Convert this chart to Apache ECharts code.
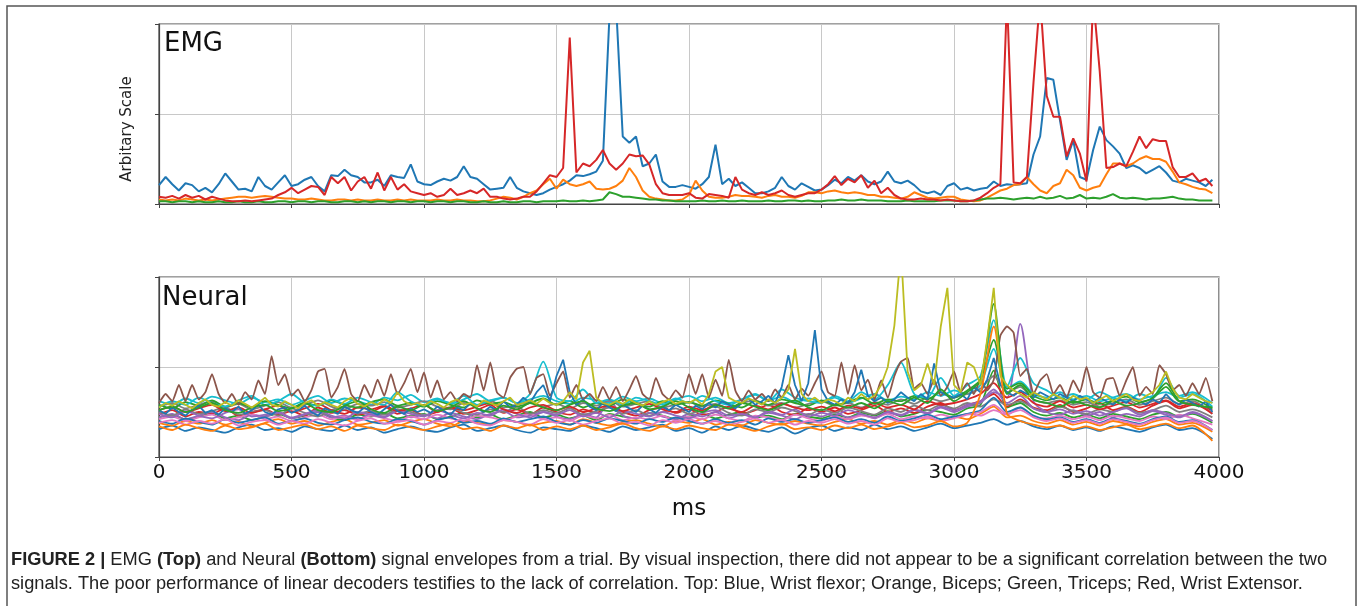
<!DOCTYPE html>
<html>
<head>
<meta charset="utf-8">
<script src="https://cdn.jsdelivr.net/npm/echarts@6/dist/echarts.min.js"></script>
<style>
  html, body { margin: 0; padding: 0; background: #ffffff; }
  #chart { width: 1360px; height: 606px; }
</style>
</head>
<body>
<div id="chart"></div>
<script>
// ---------------- DATA ----------------
const xTicks = [0, 500, 1000, 1500, 2000, 2500, 3000, 3500, 4000];
const EMG_STEP = 25;      // ms between EMG samples
const NEURAL_STEP_FINE = 25;
const NEURAL_STEP = 50;
const END_T = 3975;

// EMG envelopes (arbitrary scale, grid lines at 1 and 2)
const emgFlexor = [ // blue
0.21,0.30,0.22,0.15,0.23,0.21,0.14,0.18,0.13,0.22, 0.34,0.25,0.16,0.17,0.14,0.30,0.20,0.16,0.24,0.32,
0.20,0.22,0.27,0.30,0.20,0.14,0.32,0.31,0.38,0.32, 0.30,0.24,0.24,0.27,0.20,0.32,0.30,0.29,0.44,0.25,
0.22,0.21,0.25,0.28,0.26,0.30,0.42,0.30,0.28,0.22, 0.16,0.17,0.18,0.30,0.18,0.14,0.12,0.10,0.12,0.16,
0.19,0.22,0.26,0.32,0.31,0.33,0.36,0.48,2.10,2.20, 0.75,0.68,0.75,0.42,0.45,0.55,0.25,0.19,0.19,0.21,
0.19,0.17,0.22,0.30,0.66,0.22,0.28,0.20,0.24,0.18, 0.12,0.12,0.14,0.18,0.30,0.20,0.16,0.23,0.19,0.15,
0.16,0.21,0.27,0.23,0.30,0.26,0.32,0.25,0.22,0.25, 0.36,0.25,0.23,0.26,0.21,0.14,0.12,0.14,0.10,0.20,
0.23,0.16,0.18,0.15,0.17,0.18,0.25,0.20,0.22,0.21, 0.22,0.23,0.55,0.75,1.40,1.38,0.93,0.49,0.71,0.30,
0.27,0.60,0.86,0.71,0.64,0.56,0.40,0.43,0.40,0.34, 0.38,0.42,0.35,0.26,0.24,0.28,0.26,0.24,0.20,0.27];
const emgBiceps = [ // orange
0.05,0.04,0.05,0.04,0.06,0.05,0.04,0.05,0.04,0.05, 0.06,0.07,0.08,0.08,0.07,0.08,0.09,0.08,0.07,0.06,
0.06,0.05,0.05,0.06,0.05,0.04,0.04,0.05,0.05,0.04, 0.05,0.04,0.04,0.05,0.04,0.04,0.05,0.04,0.05,0.04,
0.04,0.04,0.05,0.04,0.04,0.05,0.04,0.04,0.03,0.03, 0.04,0.06,0.08,0.07,0.05,0.08,0.12,0.15,0.22,0.28,
0.17,0.27,0.22,0.20,0.22,0.25,0.17,0.16,0.17,0.20, 0.26,0.40,0.30,0.15,0.08,0.06,0.05,0.04,0.04,0.05,
0.10,0.26,0.15,0.08,0.07,0.07,0.08,0.10,0.09,0.09, 0.08,0.07,0.09,0.10,0.08,0.08,0.07,0.09,0.13,0.13,
0.12,0.14,0.15,0.13,0.12,0.13,0.12,0.10,0.10,0.08, 0.08,0.07,0.06,0.08,0.13,0.10,0.07,0.06,0.07,0.08,
0.08,0.05,0.04,0.03,0.04,0.07,0.11,0.15,0.17,0.21, 0.22,0.30,0.22,0.15,0.12,0.20,0.23,0.38,0.32,0.18,
0.15,0.18,0.20,0.33,0.45,0.45,0.42,0.45,0.50,0.53, 0.50,0.50,0.47,0.36,0.24,0.22,0.19,0.17,0.16,0.12];
const emgTriceps = [ // green
0.03,0.03,0.02,0.03,0.03,0.02,0.03,0.02,0.02,0.03, 0.02,0.02,0.03,0.02,0.02,0.03,0.02,0.02,0.03,0.03,
0.02,0.03,0.03,0.02,0.03,0.03,0.02,0.02,0.03,0.03, 0.02,0.03,0.02,0.03,0.03,0.02,0.03,0.03,0.02,0.03,
0.03,0.02,0.03,0.03,0.02,0.03,0.03,0.02,0.02,0.03, 0.02,0.02,0.03,0.02,0.02,0.03,0.03,0.02,0.03,0.03,
0.03,0.04,0.03,0.03,0.04,0.03,0.04,0.05,0.13,0.11, 0.08,0.08,0.07,0.06,0.05,0.05,0.04,0.04,0.03,0.03,
0.03,0.03,0.04,0.03,0.03,0.04,0.03,0.03,0.04,0.03, 0.03,0.03,0.04,0.03,0.03,0.04,0.04,0.03,0.04,0.03,
0.03,0.04,0.04,0.05,0.04,0.04,0.05,0.04,0.04,0.04, 0.03,0.03,0.03,0.04,0.03,0.03,0.03,0.03,0.04,0.04,
0.04,0.03,0.03,0.04,0.05,0.06,0.06,0.07,0.06,0.05, 0.06,0.07,0.06,0.08,0.06,0.07,0.09,0.06,0.07,0.10,
0.06,0.07,0.06,0.08,0.11,0.07,0.06,0.07,0.06,0.05, 0.06,0.06,0.07,0.08,0.06,0.05,0.05,0.04,0.04,0.04];
const emgExtensor = [ // red
0.08,0.07,0.09,0.06,0.10,0.07,0.09,0.05,0.08,0.06, 0.04,0.03,0.03,0.04,0.03,0.04,0.05,0.06,0.10,0.13,
0.18,0.12,0.16,0.20,0.19,0.10,0.30,0.23,0.30,0.15, 0.25,0.30,0.17,0.35,0.15,0.30,0.16,0.22,0.14,0.12,
0.10,0.12,0.08,0.10,0.17,0.10,0.12,0.15,0.12,0.17, 0.08,0.08,0.06,0.05,0.06,0.08,0.08,0.14,0.23,0.32,
0.30,0.40,1.85,0.35,0.45,0.42,0.49,0.60,0.45,0.38, 0.45,0.55,0.53,0.54,0.44,0.22,0.12,0.10,0.10,0.10,
0.12,0.07,0.06,0.11,0.10,0.09,0.07,0.30,0.16,0.12, 0.10,0.13,0.10,0.12,0.15,0.10,0.08,0.10,0.12,0.12,
0.16,0.22,0.31,0.21,0.28,0.24,0.32,0.18,0.26,0.12, 0.18,0.10,0.06,0.05,0.05,0.06,0.05,0.05,0.04,0.05,
0.04,0.03,0.03,0.04,0.07,0.12,0.18,0.22,2.30,0.24, 0.23,0.30,1.35,2.30,1.20,0.97,0.97,0.53,0.73,0.56,
0.25,2.30,1.47,0.40,0.41,0.45,0.42,0.58,0.75,0.62, 0.72,0.70,0.70,0.41,0.30,0.30,0.34,0.25,0.28,0.20];

// Neural envelopes, fine (25 ms) traces
const neuralBrown = [
0.60,0.70,0.62,0.80,0.62,0.80,0.64,0.72,0.92,0.70, 0.60,0.70,0.58,0.72,0.64,0.85,0.70,1.12,0.80,0.92,
0.68,0.75,0.62,0.74,0.95,0.98,0.66,0.78,0.98,0.70, 0.62,0.80,0.66,0.86,0.68,0.92,0.70,0.82,0.98,0.72,
0.94,0.66,0.85,0.64,0.72,0.62,0.70,0.66,1.02,0.74, 1.05,0.72,0.66,0.88,0.98,1.00,0.70,0.88,0.92,0.68,
0.82,0.95,0.66,0.80,0.64,0.70,0.62,0.78,0.64,0.78, 0.62,0.75,0.90,0.70,0.64,0.88,0.70,0.64,0.74,0.66,
0.92,0.70,0.92,0.66,0.86,0.68,1.08,0.74,0.62,0.74, 0.64,0.70,0.62,0.75,0.66,0.80,0.64,0.76,0.68,0.82,
0.95,0.72,0.68,1.05,0.70,1.02,0.74,0.86,0.64,0.85, 0.66,0.90,1.06,1.10,0.76,0.82,0.70,0.86,0.68,0.78,
0.95,0.72,0.82,0.70,0.86,0.74,0.86,1.35,1.45,1.38, 0.90,0.98,0.70,0.85,0.92,0.70,0.80,0.66,0.85,0.72,
1.00,0.72,0.66,0.86,0.88,0.68,0.85,1.00,0.68,0.78, 0.70,1.02,0.92,0.74,0.80,0.68,0.82,0.70,0.88,0.62];
const neuralOlive = [
0.55,0.60,0.57,0.62,0.58,0.54,0.60,0.64,0.58,0.56, 0.61,0.57,0.63,0.59,0.55,0.60,0.66,0.58,0.56,0.62,
0.58,0.54,0.60,0.63,0.57,0.61,0.58,0.55,0.62,0.66, 0.59,0.56,0.61,0.58,0.64,0.60,0.72,0.62,0.58,0.60,
0.57,0.62,0.59,0.55,0.61,0.64,0.58,0.60,0.56,0.63, 0.60,0.57,0.62,0.66,0.58,0.60,0.63,0.59,0.65,0.60,
0.58,0.62,0.72,0.64,1.05,1.18,0.66,0.60,0.58,0.62, 0.59,0.64,0.60,0.57,0.62,0.58,0.61,0.64,0.59,0.62,
0.60,0.64,0.58,0.70,0.95,1.00,0.66,0.62,0.60,0.65, 0.62,0.58,0.64,0.60,0.66,0.75,1.20,0.70,0.62,0.66,
0.60,0.64,0.62,0.58,0.66,0.62,0.70,0.64,0.68,0.80, 1.00,1.46,2.30,0.95,0.74,0.80,1.04,0.80,1.45,1.88,
0.80,0.72,1.05,1.00,0.80,1.30,1.88,0.90,0.80,0.74, 0.70,0.66,0.72,0.68,0.64,0.70,0.66,0.62,0.68,0.64,
0.66,0.60,0.64,0.68,0.62,0.66,0.70,0.64,0.62,0.68, 0.72,0.80,0.95,0.76,0.66,0.64,0.70,0.66,0.62,0.60];
const neuralBlueA = [
0.52,0.48,0.55,0.50,0.46,0.53,0.57,0.49,0.52,0.47, 0.54,0.50,0.56,0.48,0.52,0.58,0.50,0.47,0.53,0.55,
0.49,0.52,0.57,0.50,0.46,0.54,0.51,0.48,0.56,0.52, 0.49,0.55,0.50,0.47,0.53,0.58,0.51,0.48,0.54,0.50,
0.53,0.49,0.56,0.51,0.47,0.55,0.52,0.60,0.54,0.50, 0.56,0.52,0.62,0.55,0.58,0.66,0.60,0.72,0.80,0.62,
0.90,1.08,0.72,0.58,0.64,0.56,0.52,0.60,0.55,0.51, 0.58,0.54,0.50,0.57,0.53,0.49,0.56,0.52,0.58,0.54,
0.50,0.57,0.53,0.60,0.55,0.62,0.58,0.54,0.60,0.65, 0.58,0.62,0.68,0.60,0.78,1.13,0.80,0.62,0.82,1.41,
0.75,0.62,0.58,0.64,0.60,0.72,0.97,0.68,0.62,0.66, 0.60,0.64,0.72,0.66,0.62,0.70,0.64,1.04,0.72,0.68,
0.66,0.70,0.64,0.78,0.72,0.86,1.10,0.80,0.72,0.68, 0.74,0.70,0.66,0.72,0.68,0.64,0.70,0.66,0.62,0.68,
0.64,0.60,0.66,0.62,0.58,0.64,0.60,0.66,0.62,0.58, 0.64,0.60,0.70,0.62,0.58,0.64,0.60,0.56,0.62,0.50];

// Neural envelopes, coarse (50 ms) traces
const neuralCyan = [
0.55,0.62,0.58,0.66,0.60,0.56,0.63,0.68,0.58,0.62, 0.70,0.60,0.57,0.64,0.59,0.66,0.61,0.58,0.72,0.62,
0.57,0.64,0.60,0.68,0.58,0.63,0.66,0.60,0.70,1.06, 0.66,0.62,0.75,0.60,0.64,0.58,0.66,0.62,0.58,0.65,
0.60,0.68,0.62,0.58,0.64,0.70,0.62,0.75,0.66,0.62, 0.60,0.68,0.62,0.72,0.64,0.80,1.05,0.70,0.66,0.88,
0.68,0.80,0.90,1.52,0.78,1.10,0.82,0.74,0.66,0.70, 0.64,0.72,0.66,0.62,0.70,0.66,0.88,0.68,0.72,0.60];
const neuralGreen = [
0.52,0.56,0.50,0.55,0.60,0.52,0.49,0.55,0.58,0.51, 0.54,0.60,0.52,0.50,0.57,0.62,0.53,0.49,0.56,0.52,
0.58,0.51,0.55,0.62,0.54,0.50,0.57,0.53,0.60,0.55, 0.52,0.58,0.62,0.54,0.51,0.57,0.60,0.53,0.56,0.62,
0.55,0.50,0.58,0.54,0.60,0.56,0.52,0.58,0.63,0.55, 0.52,0.58,0.55,0.60,0.54,0.62,0.58,0.66,0.60,0.75,
0.62,0.72,0.85,1.70,0.70,0.80,0.64,0.60,0.56,0.62, 0.58,0.55,0.62,0.57,0.60,0.66,0.82,0.62,0.58,0.55];
const neuralGreenC = [
0.58,0.54,0.61,0.57,0.63,0.56,0.60,0.55,0.62,0.58, 0.54,0.60,0.57,0.63,0.58,0.55,0.61,0.64,0.57,0.60,
0.56,0.62,0.58,0.55,0.63,0.59,0.61,0.56,0.60,0.65, 0.58,0.62,0.55,0.60,0.57,0.64,0.59,0.56,0.62,0.58,
0.61,0.57,0.63,0.59,0.55,0.62,0.58,0.64,0.60,0.57, 0.63,0.58,0.61,0.66,0.59,0.64,0.62,0.68,0.64,0.72,
0.66,0.74,0.86,1.30,0.76,0.82,0.68,0.63,0.66,0.60, 0.64,0.59,0.63,0.67,0.61,0.65,0.78,0.62,0.64,0.54];
const neuralRed = [
0.47,0.52,0.45,0.50,0.48,0.54,0.46,0.50,0.53,0.47, 0.51,0.46,0.55,0.49,0.52,0.47,0.50,0.56,0.48,0.52,
0.46,0.50,0.54,0.48,0.52,0.58,0.49,0.53,0.47,0.55, 0.50,0.47,0.53,0.49,0.56,0.50,0.46,0.52,0.55,0.49,
0.53,0.47,0.50,0.56,0.48,0.52,0.58,0.50,0.47,0.54, 0.50,0.55,0.48,0.52,0.57,0.50,0.54,0.49,0.56,0.60,
0.52,0.58,0.62,0.70,0.56,0.64,0.55,0.52,0.58,0.50, 0.54,0.60,0.52,0.56,0.50,0.57,0.62,0.54,0.58,0.52];
const neuralPurple = [
0.44,0.48,0.42,0.46,0.50,0.44,0.41,0.47,0.45,0.49, 0.43,0.47,0.50,0.44,0.46,0.42,0.48,0.45,0.52,0.44,
0.47,0.43,0.49,0.45,0.42,0.48,0.51,0.44,0.46,0.50, 0.45,0.42,0.48,0.44,0.62,0.46,0.43,0.49,0.45,0.42,
0.48,0.45,0.50,0.43,0.47,0.44,0.49,0.46,0.42,0.48, 0.45,0.50,0.44,0.47,0.43,0.49,0.46,0.52,0.48,0.55,
0.50,0.56,0.60,0.72,0.66,1.48,0.62,0.50,0.47,0.52, 0.46,0.50,0.44,0.48,0.45,0.51,0.47,0.44,0.49,0.40];
const neuralPurpleB = [
0.48,0.44,0.51,0.46,0.43,0.49,0.53,0.45,0.47,0.50, 0.44,0.48,0.52,0.46,0.43,0.50,0.47,0.44,0.51,0.48,
0.45,0.52,0.47,0.43,0.49,0.46,0.53,0.48,0.44,0.50, 0.47,0.52,0.45,0.49,0.44,0.51,0.48,0.45,0.50,0.46,
0.43,0.49,0.52,0.46,0.48,0.44,0.51,0.47,0.53,0.45, 0.49,0.46,0.52,0.48,0.44,0.50,0.47,0.53,0.49,0.56,
0.52,0.58,0.62,0.75,0.60,0.68,0.54,0.50,0.53,0.48, 0.51,0.46,0.50,0.54,0.47,0.52,0.49,0.45,0.50,0.40];
const neuralPink = [
0.42,0.45,0.40,0.44,0.47,0.41,0.44,0.48,0.42,0.45, 0.40,0.44,0.47,0.42,0.45,0.41,0.46,0.43,0.40,0.45,
0.42,0.47,0.43,0.40,0.46,0.44,0.41,0.45,0.48,0.42, 0.44,0.40,0.46,0.43,0.47,0.41,0.44,0.42,0.46,0.40,
0.45,0.42,0.47,0.43,0.40,0.46,0.44,0.41,0.47,0.43, 0.40,0.45,0.42,0.46,0.44,0.48,0.42,0.45,0.43,0.47,
0.44,0.48,0.46,0.52,0.47,0.55,0.45,0.43,0.46,0.42, 0.45,0.41,0.46,0.43,0.40,0.45,0.42,0.47,0.43,0.36];
const neuralPinkB = [
0.38,0.41,0.36,0.40,0.37,0.42,0.35,0.39,0.41,0.36, 0.40,0.37,0.42,0.38,0.35,0.40,0.43,0.37,0.39,0.41,
0.36,0.40,0.38,0.43,0.37,0.35,0.41,0.39,0.36,0.42, 0.38,0.41,0.36,0.40,0.43,0.37,0.39,0.35,0.41,0.38,
0.42,0.37,0.40,0.36,0.39,0.43,0.38,0.41,0.36,0.40, 0.38,0.42,0.37,0.40,0.36,0.43,0.39,0.41,0.45,0.40,
0.43,0.47,0.50,0.58,0.48,0.52,0.44,0.40,0.43,0.38, 0.41,0.37,0.42,0.39,0.36,0.41,0.44,0.38,0.40,0.30];
const neuralGray = [
0.50,0.46,0.53,0.48,0.51,0.55,0.47,0.50,0.52,0.46, 0.54,0.49,0.45,0.52,0.56,0.48,0.51,0.47,0.53,0.50,
0.46,0.52,0.55,0.49,0.47,0.53,0.50,0.56,0.48,0.52, 0.49,0.54,0.47,0.51,0.55,0.48,0.52,0.46,0.50,0.54,
0.48,0.52,0.56,0.49,0.46,0.53,0.50,0.55,0.51,0.47, 0.53,0.49,0.55,0.51,0.47,0.54,0.50,0.57,0.52,0.58,
0.54,0.60,0.56,0.64,0.58,0.62,0.54,0.50,0.56,0.51, 0.48,0.53,0.50,0.55,0.49,0.52,0.57,0.50,0.53,0.44];
const neuralGrayB = [
0.56,0.60,0.54,0.58,0.62,0.55,0.59,0.53,0.57,0.61, 0.55,0.58,0.63,0.56,0.53,0.59,0.57,0.61,0.55,0.58,
0.62,0.56,0.53,0.60,0.57,0.63,0.55,0.58,0.61,0.56, 0.59,0.54,0.60,0.57,0.63,0.56,0.59,0.62,0.55,0.58,
0.61,0.56,0.59,0.54,0.60,0.63,0.57,0.60,0.55,0.59, 0.62,0.57,0.60,0.55,0.61,0.58,0.64,0.59,0.66,0.62,
0.66,0.70,0.76,0.90,0.72,0.78,0.64,0.60,0.63,0.58, 0.61,0.56,0.60,0.64,0.58,0.62,0.66,0.59,0.62,0.48];
const neuralOrange = [
0.34,0.30,0.36,0.32,0.29,0.35,0.31,0.33,0.37,0.30, 0.33,0.36,0.31,0.34,0.29,0.35,0.32,0.30,0.36,0.33,
0.30,0.34,0.37,0.31,0.33,0.29,0.35,0.32,0.36,0.30, 0.34,0.31,0.35,0.30,0.33,0.37,0.32,0.29,0.34,0.31,
0.35,0.32,0.30,0.36,0.33,0.29,0.34,0.37,0.31,0.33, 0.30,0.35,0.32,0.36,0.31,0.34,0.38,0.33,0.35,0.40,
0.34,0.38,0.70,1.45,0.48,0.40,0.36,0.33,0.35,0.31, 0.34,0.30,0.33,0.36,0.31,0.34,0.37,0.32,0.35,0.18];
const neuralBlueB = [
0.31,0.35,0.29,0.33,0.30,0.27,0.33,0.36,0.30,0.32, 0.28,0.34,0.31,0.29,0.35,0.30,0.33,0.27,0.31,0.34,
0.30,0.28,0.33,0.36,0.29,0.32,0.35,0.30,0.27,0.33, 0.31,0.29,0.35,0.32,0.28,0.34,0.30,0.33,0.36,0.29,
0.32,0.27,0.34,0.30,0.35,0.31,0.28,0.33,0.26,0.32, 0.35,0.29,0.33,0.30,0.36,0.31,0.34,0.29,0.33,0.37,
0.32,0.35,0.38,0.42,0.36,0.40,0.34,0.31,0.35,0.30, 0.33,0.29,0.34,0.31,0.28,0.33,0.36,0.30,0.32,0.20];
const neuralBlueC = [
0.40,0.37,0.43,0.39,0.36,0.42,0.38,0.41,0.44,0.37, 0.40,0.43,0.38,0.36,0.41,0.44,0.39,0.37,0.42,0.40,
0.36,0.41,0.44,0.38,0.40,0.37,0.43,0.39,0.42,0.45, 0.39,0.36,0.41,0.38,0.43,0.40,0.37,0.42,0.39,0.44,
0.40,0.37,0.42,0.38,0.41,0.36,0.43,0.39,0.42,0.38, 0.41,0.44,0.39,0.42,0.38,0.45,0.40,0.43,0.47,0.42,
0.45,0.48,0.52,0.66,0.50,0.55,0.46,0.42,0.44,0.39, 0.42,0.38,0.43,0.40,0.37,0.42,0.45,0.39,0.41,0.30];
const neuralOrangeB = [
0.38,0.35,0.40,0.37,0.41,0.36,0.39,0.34,0.38,0.42, 0.37,0.40,0.35,0.39,0.42,0.36,0.38,0.41,0.35,0.39,
0.42,0.37,0.34,0.40,0.38,0.36,0.41,0.39,0.35,0.38, 0.40,0.36,0.42,0.38,0.35,0.39,0.41,0.37,0.34,0.40,
0.38,0.42,0.36,0.39,0.35,0.41,0.38,0.36,0.40,0.37, 0.35,0.39,0.42,0.37,0.40,0.36,0.41,0.38,0.43,0.40,
0.45,0.42,0.48,0.56,0.44,0.46,0.40,0.37,0.41,0.36, 0.39,0.35,0.40,0.37,0.34,0.39,0.42,0.36,0.38,0.28];
const neuralGreenB = [
0.44,0.47,0.42,0.45,0.49,0.43,0.46,0.41,0.45,0.48, 0.43,0.46,0.50,0.44,0.41,0.47,0.45,0.49,0.43,0.46,
0.48,0.42,0.45,0.49,0.44,0.47,0.42,0.46,0.50,0.44, 0.47,0.43,0.46,0.41,0.48,0.45,0.43,0.49,0.46,0.42,
0.45,0.48,0.43,0.47,0.50,0.44,0.46,0.42,0.48,0.45, 0.43,0.47,0.44,0.49,0.46,0.51,0.45,0.48,0.52,0.50,
0.47,0.54,0.58,0.96,0.55,0.60,0.50,0.46,0.49,0.44, 0.47,0.43,0.48,0.45,0.42,0.47,0.50,0.45,0.48,0.38];
const neuralCyanB = [
0.62,0.58,0.65,0.60,0.67,0.63,0.59,0.66,0.61,0.64, 0.58,0.63,0.68,0.60,0.65,0.62,0.58,0.66,0.63,0.69,
0.61,0.65,0.59,0.64,0.70,0.62,0.66,0.60,0.64,0.68, 0.62,0.59,0.66,0.63,0.60,0.67,0.62,0.65,0.60,0.64,
0.68,0.62,0.66,0.60,0.64,0.69,0.63,0.67,0.61,0.65, 0.62,0.66,0.60,0.65,0.70,0.63,0.67,0.64,0.72,0.68,
0.74,0.70,0.80,1.20,0.76,0.84,0.70,0.66,0.72,0.64, 0.68,0.62,0.66,0.70,0.64,0.68,0.72,0.66,0.70,0.56];
const neuralRedB = [
0.52,0.56,0.50,0.54,0.58,0.51,0.55,0.49,0.53,0.57, 0.50,0.54,0.59,0.52,0.48,0.55,0.53,0.57,0.51,0.54,
0.58,0.50,0.55,0.52,0.56,0.60,0.53,0.49,0.55,0.58, 0.52,0.56,0.50,0.54,0.57,0.51,0.55,0.59,0.53,0.50,
0.56,0.52,0.58,0.54,0.50,0.57,0.53,0.59,0.55,0.52, 0.56,0.51,0.57,0.54,0.60,0.55,0.58,0.53,0.62,0.58,
0.60,0.64,0.70,0.82,0.66,0.72,0.60,0.56,0.62,0.55, 0.58,0.53,0.57,0.61,0.55,0.59,0.63,0.56,0.60,0.48];

const captionLine1 = [
  ['FIGURE 2 |', true], [' EMG ', false], ['(Top)', true], [' and Neural ', false], ['(Bottom)', true],
  [' signal envelopes from a trial. By visual inspection, there did not appear to be a significant correlation between the two', false]
];
const captionLine2 = 'signals. The poor performance of linear decoders testifies to the lack of correlation. Top: Blue, Wrist flexor; Orange, Biceps; Green, Triceps; Red, Wrist Extensor.';

// ---------------- STYLE / LAYOUT ----------------
const C = { blue:'#1f77b4', orange:'#ff7f0e', green:'#2ca02c', red:'#d62728', purple:'#9467bd',
            brown:'#8c564b', pink:'#e377c2', gray:'#7f7f7f', olive:'#bcbd22', cyan:'#17becf' };
const PLOT_LEFT = 159, PLOT_W = 1060, PLOT_H = 180;
const TOP1 = 24, TOP2 = 277;
const AX = '#444';
const GRIDC = '#c8c8c8';
const CAP_FONT = '"Liberation Sans Narrow", "Liberation Sans", Arial, sans-serif';

function toPairs(vals, step) {
  return vals.map((v, i) => [i === vals.length - 1 ? END_T : i * step, v]);
}
function line(name, vals, step, color, idx, width, smooth) {
  return { name, type: 'line', xAxisIndex: idx, yAxisIndex: idx, data: toPairs(vals, step),
           showSymbol: false, symbol: 'none', clip: true, silent: true, smooth: smooth || false,
           lineStyle: { color, width }, itemStyle: { color } };
}
function xAxisCfg(idx, labels) {
  return { gridIndex: idx, type: 'value', min: 0, max: 4000, interval: 500,
    axisLine: { show: true, onZero: false, lineStyle: { color: AX, width: 1.2 } },
    axisTick: { show: true, length: 4, lineStyle: { color: AX } },
    splitLine: { show: true, lineStyle: { color: GRIDC, width: 1 } },
    axisLabel: { show: labels, fontFamily: 'DejaVu Sans', fontSize: 20, color: '#111', margin: 6,
                 formatter: v => String(v) },
    name: labels ? 'ms' : '', nameLocation: 'middle', nameGap: 41,
    nameTextStyle: { fontFamily: 'DejaVu Sans', fontSize: 23, color: '#111' } };
}
function yAxisCfg(idx) {
  return { gridIndex: idx, type: 'value', min: 0, max: 2, interval: 1,
    axisLine: { show: true, onZero: false, lineStyle: { color: AX, width: 1.2 } },
    axisTick: { show: true, length: 4, lineStyle: { color: AX } },
    splitLine: { show: true, lineStyle: { color: GRIDC, width: 1 } },
    axisLabel: { show: false } };
}

// fit caption font size to the caption width of the reference
function captionFontSize() {
  const ctx = document.createElement('canvas').getContext('2d');
  let w = 0;
  for (const [t, b] of captionLine1) { ctx.font = (b ? 'bold ' : '') + '16px ' + CAP_FONT; w += ctx.measureText(t).width; }
  return Math.max(12, Math.min(22, 16 * 1317 / w));
}
const capSize = captionFontSize();
const cap1Text = captionLine1.map(([t, b]) => b ? '{b|' + t + '}' : '{n|' + t + '}').join('');

const EW = 2.0, NW = 1.8, NS = 0.25;
const series = [
  line('Wrist flexor', emgFlexor, EMG_STEP, C.blue, 0, EW),
  line('Biceps', emgBiceps, EMG_STEP, C.orange, 0, EW),
  line('Triceps', emgTriceps, EMG_STEP, C.green, 0, EW),
  line('Wrist Extensor', emgExtensor, EMG_STEP, C.red, 0, EW),
  line('n1', neuralBlueB, NEURAL_STEP, C.blue, 1, NW, NS),
  line('n2', neuralOrangeB, NEURAL_STEP, C.orange, 1, NW, NS),
  line('n3', neuralGreenB, NEURAL_STEP, C.green, 1, NW, NS),
  line('n4', neuralRed, NEURAL_STEP, C.red, 1, NW, NS),
  line('n5', neuralPurple, NEURAL_STEP, C.purple, 1, NW, NS),
  line('n6', neuralPink, NEURAL_STEP, C.pink, 1, NW, NS),
  line('n7', neuralGray, NEURAL_STEP, C.gray, 1, NW, NS),
  line('n8', neuralCyanB, NEURAL_STEP, C.cyan, 1, NW, NS),
  line('n9', neuralBlueC, NEURAL_STEP, C.blue, 1, NW, NS),
  line('n10', neuralPinkB, NEURAL_STEP, C.pink, 1, NW, NS),
  line('n11', neuralPurpleB, NEURAL_STEP, C.purple, 1, NW, NS),
  line('n12', neuralGrayB, NEURAL_STEP, C.gray, 1, NW, NS),
  line('n13', neuralRedB, NEURAL_STEP, C.red, 1, NW, NS),
  line('n14', neuralGreenC, NEURAL_STEP, C.green, 1, NW, NS),
  line('n15', neuralCyan, NEURAL_STEP, C.cyan, 1, NW, NS),
  line('n16', neuralBrown, NEURAL_STEP_FINE, C.brown, 1, NW, 0.15),
  line('n17', neuralBlueA, NEURAL_STEP_FINE, C.blue, 1, NW),
  line('n18', neuralGreen, NEURAL_STEP, C.green, 1, NW, NS),
  line('n19', neuralOrange, NEURAL_STEP, C.orange, 1, NW, NS),
  line('n20', neuralOlive, NEURAL_STEP_FINE, C.olive, 1, NW)
];

const chart = echarts.init(document.getElementById('chart'), null, { renderer: 'canvas' });
chart.setOption({
  animation: false,
  backgroundColor: '#ffffff',
  grid: [
    { left: PLOT_LEFT, top: TOP1, width: PLOT_W, height: PLOT_H, show: true, borderColor: AX, borderWidth: 1.2, backgroundColor: 'transparent' },
    { left: PLOT_LEFT, top: TOP2, width: PLOT_W, height: PLOT_H, show: true, borderColor: AX, borderWidth: 1.2, backgroundColor: 'transparent' }
  ],
  xAxis: [xAxisCfg(0, false), xAxisCfg(1, true)],
  yAxis: [yAxisCfg(0), yAxisCfg(1)],
  series,
  graphic: [
    { type: 'rect', shape: { x: 7, y: 6, width: 1349, height: 640 }, style: { fill: 'none', stroke: '#555', lineWidth: 1.5 }, silent: true },
    { type: 'text', x: 164, y: 44, style: { text: 'EMG', fontFamily: 'DejaVu Sans', fontSize: 26, fill: '#111', align: 'left', verticalAlign: 'middle' } },
    { type: 'text', x: 162, y: 298, style: { text: 'Neural', fontFamily: 'DejaVu Sans', fontSize: 26, fill: '#111', align: 'left', verticalAlign: 'middle' } },
    { type: 'text', x: 127, y: 129, rotation: Math.PI / 2, style: { text: 'Arbitary Scale', fontFamily: 'DejaVu Sans', fontSize: 15, fill: '#222', align: 'center', verticalAlign: 'middle' } },
    { type: 'text', x: 11, y: 560, style: { text: cap1Text, fill: '#222', align: 'left', verticalAlign: 'middle',
        fontFamily: CAP_FONT, fontSize: capSize,
        rich: { b: { fontWeight: 'bold', fontFamily: CAP_FONT, fontSize: capSize, fill: '#222' },
                n: { fontWeight: 'normal', fontFamily: CAP_FONT, fontSize: capSize, fill: '#222' } } } },
    { type: 'text', x: 11, y: 584, style: { text: captionLine2, fill: '#222', align: 'left', verticalAlign: 'middle', fontFamily: CAP_FONT, fontSize: capSize } }
  ]
});
</script>
</body>
</html>
